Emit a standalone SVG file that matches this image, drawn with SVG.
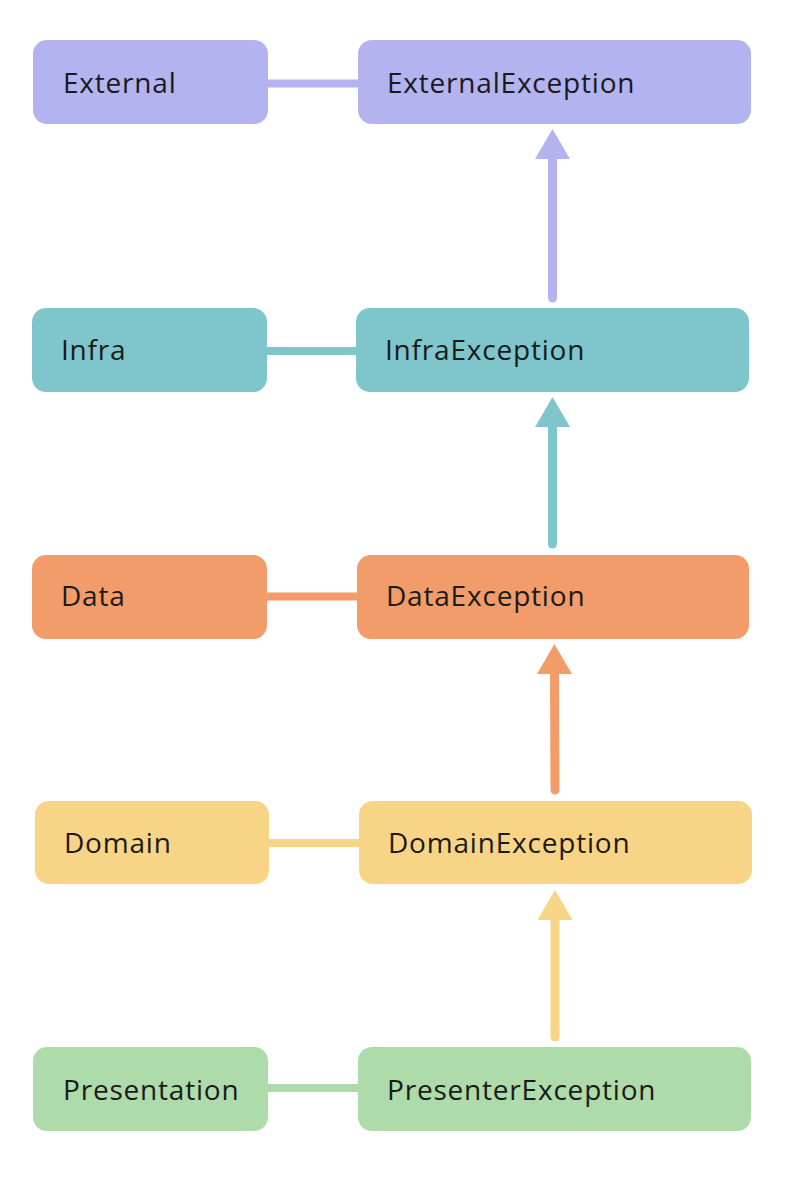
<svg xmlns="http://www.w3.org/2000/svg" width="786" height="1178" viewBox="0 0 786 1178">
<style>
  .lbl { font-family: "Open Sans", "Noto Sans", "Liberation Sans", sans-serif; font-size: 28px; fill: #1a1a1a; letter-spacing: 0.8px; }
  .ext { fill: #B3B4EF; } .inf { fill: #7EC6CB; } .dat { fill: #F19C69; } .dom { fill: #F8D486; } .pre { fill: #AEDBAA; }
  .link { stroke-width: 8; fill: none; }
  .arr { stroke-width: 9; fill: none; stroke-linecap: round; }
</style>
<defs>
  <marker id="hExt" viewBox="0 0 30 35" refX="0" refY="17.5" markerWidth="30" markerHeight="35" markerUnits="userSpaceOnUse" orient="auto"><path d="M0,0 L30,17.5 L0,35 Z" fill="#B3B4EF"/></marker>
  <marker id="hInf" viewBox="0 0 30 35" refX="0" refY="17.5" markerWidth="30" markerHeight="35" markerUnits="userSpaceOnUse" orient="auto"><path d="M0,0 L30,17.5 L0,35 Z" fill="#7EC6CB"/></marker>
  <marker id="hDat" viewBox="0 0 30 35" refX="0" refY="17.5" markerWidth="30" markerHeight="35" markerUnits="userSpaceOnUse" orient="auto"><path d="M0,0 L30,17.5 L0,35 Z" fill="#F19C69"/></marker>
  <marker id="hDom" viewBox="0 0 30 35" refX="0" refY="17.5" markerWidth="30" markerHeight="35" markerUnits="userSpaceOnUse" orient="auto"><path d="M0,0 L30,17.5 L0,35 Z" fill="#F8D486"/></marker>
</defs>
<g id="connectors">
  <line class="link" x1="266" y1="83.5" x2="360" y2="83.5" stroke="#B3B4EF"/>
  <line class="link" x1="265" y1="351" x2="358" y2="351" stroke="#7EC6CB"/>
  <line class="link" x1="265" y1="596.5" x2="359" y2="596.5" stroke="#F19C69"/>
  <line class="link" x1="267" y1="843" x2="361" y2="843" stroke="#F8D486"/>
  <line class="link" x1="266" y1="1088" x2="360" y2="1088" stroke="#AEDBAA"/>
  <path class="arr" d="M552.5,298 L552.5,159" stroke="#B3B4EF" marker-end="url(#hExt)"/>
  <path class="arr" d="M552.5,544 L552.5,427" stroke="#7EC6CB" marker-end="url(#hInf)"/>
  <path class="arr" d="M555,790 L554.5,674" stroke="#F19C69" marker-end="url(#hDat)"/>
  <path class="arr" d="M555,1037 L555,920" stroke="#F8D486" marker-end="url(#hDom)"/>
</g>
<g id="external"><rect class="ext" x="33" y="40" width="235" height="84" rx="14"/><text class="lbl" x="63" y="93">External</text></g>
<g id="externalException"><rect class="ext" x="358" y="40" width="393" height="84" rx="14"/><text class="lbl" x="387" y="93">ExternalException</text></g>
<g id="infra"><rect class="inf" x="32" y="308" width="235" height="84" rx="14"/><text class="lbl" x="61" y="360">Infra</text></g>
<g id="infraException"><rect class="inf" x="356" y="308" width="393" height="84" rx="14"/><text class="lbl" x="385" y="360">InfraException</text></g>
<g id="data"><rect class="dat" x="32" y="555" width="235" height="84" rx="14"/><text class="lbl" x="61" y="606">Data</text></g>
<g id="dataException"><rect class="dat" x="357" y="555" width="392" height="84" rx="14"/><text class="lbl" x="386" y="606">DataException</text></g>
<g id="domain"><rect class="dom" x="35" y="801" width="234" height="83" rx="14"/><text class="lbl" x="64" y="853">Domain</text></g>
<g id="domainException"><rect class="dom" x="359" y="801" width="393" height="83" rx="14"/><text class="lbl" x="388" y="853">DomainException</text></g>
<g id="presentation"><rect class="pre" x="33" y="1047" width="235" height="84" rx="14"/><text class="lbl" x="63" y="1100">Presentation</text></g>
<g id="presenterException"><rect class="pre" x="358" y="1047" width="393" height="84" rx="14"/><text class="lbl" x="387" y="1100">PresenterException</text></g>
</svg>
